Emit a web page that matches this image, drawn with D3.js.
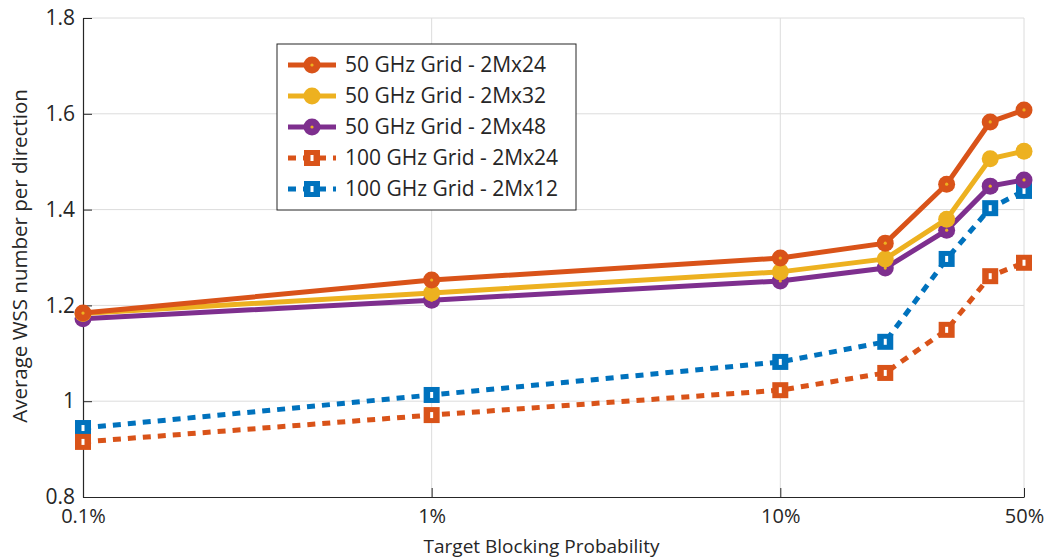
<!DOCTYPE html>
<html>
<head>
<meta charset="utf-8">
<script src="https://cdn.jsdelivr.net/npm/d3@7"></script>
<style>
  body { margin: 0; background: #fff; }
  text { font-family: "Open Sans", "Noto Sans", sans-serif; fill: #262626; }
</style>
</head>
<body>
<div id="chart"></div>
<script>
// x positions (blocking probability) and tick labels
const probs = [0.001, 0.01, 0.1, 0.2, 0.3, 0.4, 0.5];
const xTicks = [0.001, 0.01, 0.1, 0.5];
const xTickLabels = ['0.1%', '1%', '10%', '50%'];
const yTicks = [0.8, 1, 1.2, 1.4, 1.6, 1.8];
const yTickLabels = ['0.8', '1', '1.2', '1.4', '1.6', '1.8'];

// series values
const g50_2Mx24 = [1.184, 1.253, 1.299, 1.330, 1.453, 1.583, 1.608];
const g50_2Mx32 = [1.183, 1.226, 1.270, 1.297, 1.380, 1.506, 1.522];
const g50_2Mx48 = [1.172, 1.211, 1.251, 1.278, 1.357, 1.449, 1.462];
const g100_2Mx24 = [0.915, 0.971, 1.023, 1.059, 1.149, 1.261, 1.289];
const g100_2Mx12 = [0.944, 1.013, 1.082, 1.124, 1.297, 1.403, 1.439];

const series = [
  { name: '50 GHz Grid - 2Mx24', values: g50_2Mx24, color: '#D95319', dashed: false },
  { name: '50 GHz Grid - 2Mx32', values: g50_2Mx32, color: '#EDB120', dashed: false },
  { name: '50 GHz Grid - 2Mx48', values: g50_2Mx48, color: '#7E2F8E', dashed: false },
  { name: '100 GHz Grid - 2Mx24', values: g100_2Mx24, color: '#D95319', dashed: true },
  { name: '100 GHz Grid - 2Mx12', values: g100_2Mx12, color: '#0072BD', dashed: true }
];

const W = 1046, H = 560;
const margin = { top: 18, right: 22, bottom: 63, left: 83 };
const width = W - margin.left - margin.right;
const height = H - margin.top - margin.bottom;

const svg = d3.select('#chart').append('svg')
    .attr('width', W)
    .attr('height', H);
const g = svg.append('g')
    .attr('transform', `translate(${margin.left},${margin.top})`);

const x = d3.scaleLog().domain([0.001, 0.5]).range([0, width]);
const y = d3.scaleLinear().domain([0.8, 1.8]).range([height, 0]);

// grid
g.append('g').selectAll('line')
    .data(yTicks.slice(1))
  .enter().append('line')
    .attr('x1', 0).attr('x2', width)
    .attr('y1', d => y(d)).attr('y2', d => y(d))
    .attr('stroke', '#dcdcdc').attr('stroke-width', 1);
g.append('g').selectAll('line')
    .data(xTicks.slice(1))
  .enter().append('line')
    .attr('x1', d => x(d)).attr('x2', d => x(d))
    .attr('y1', 0).attr('y2', height)
    .attr('stroke', '#dcdcdc').attr('stroke-width', 1);

// axes
const yAxis = g.append('g')
    .call(d3.axisLeft(y).tickValues(yTicks).tickFormat((d, i) => yTickLabels[i]).tickSizeInner(-9).tickSizeOuter(0));
const xAxis = g.append('g')
    .attr('transform', `translate(0,${height})`)
    .call(d3.axisBottom(x).tickValues(xTicks).tickFormat((d, i) => xTickLabels[i]).tickSizeInner(-9).tickSizeOuter(0));
[yAxis, xAxis].forEach(a => {
  a.select('.domain').attr('stroke', '#262626').attr('stroke-width', 1.2);
  a.selectAll('.tick line').attr('stroke', '#262626');
  a.selectAll('.tick text').attr('fill', '#262626');
});
yAxis.selectAll('.tick text').style('font-size', '21px').attr('x', -8);
xAxis.selectAll('.tick text').style('font-size', '20px').attr('y', 12).attr('dy', '0.71em');

// axis labels
svg.append('text')
    .attr('x', margin.left + width / 2 - 12)
    .attr('y', 553)
    .attr('text-anchor', 'middle')
    .style('font-size', '19px')
    .text('Target Blocking Probability');
svg.append('text')
    .attr('transform', `translate(27,256) rotate(-90)`)
    .attr('text-anchor', 'middle')
    .style('font-size', '20.5px')
    .text('Average WSS number per direction');

const line = d3.line()
    .x((d, i) => x(probs[i]))
    .y(d => y(d));

function drawMarker(sel, s, cx, cy) {
  if (s.dashed) {
    sel.append('rect')
        .attr('x', cx - 8).attr('y', cy - 8)
        .attr('width', 16).attr('height', 16)
        .attr('fill', s.color);
    sel.append('rect')
        .attr('x', cx - 1.5).attr('y', cy - 3)
        .attr('width', 3).attr('height', 6)
        .attr('fill', '#fff');
  } else {
    sel.append('circle')
        .attr('cx', cx).attr('cy', cy).attr('r', 8.5)
        .attr('fill', s.color);
    sel.append('circle')
        .attr('cx', cx).attr('cy', cy).attr('r', 1.6)
        .attr('fill', '#EDB120');
  }
}

// draw in reverse so the first series sits on top
series.slice().reverse().forEach(s => {
  const sg = g.append('g');
  sg.append('path')
      .datum(s.values)
      .attr('d', line)
      .attr('fill', 'none')
      .attr('stroke', s.color)
      .attr('stroke-width', 5)
      .attr('stroke-dasharray', s.dashed ? '8,7' : null);
  s.values.forEach((v, i) => drawMarker(sg, s, x(probs[i]), y(v)));
});

// legend
const lg = svg.append('g').attr('transform', 'translate(277,44)');
lg.append('rect')
    .attr('width', 299).attr('height', 166)
    .attr('fill', '#fff')
    .attr('stroke', '#262626').attr('stroke-width', 1);
series.forEach((s, i) => {
  const yy = 21 + i * 31;
  const row = lg.append('g');
  row.append('line')
      .attr('x1', 11).attr('x2', 59)
      .attr('y1', yy).attr('y2', yy)
      .attr('stroke', s.color).attr('stroke-width', 5)
      .attr('stroke-dasharray', s.dashed ? '8,7' : null);
  drawMarker(row, s, 35, yy);
  row.append('text')
      .attr('x', 68).attr('y', yy)
      .attr('dy', '0.35em')
      .style('font-size', '21px')
      .text(s.name);
});
</script>
</body>
</html>
